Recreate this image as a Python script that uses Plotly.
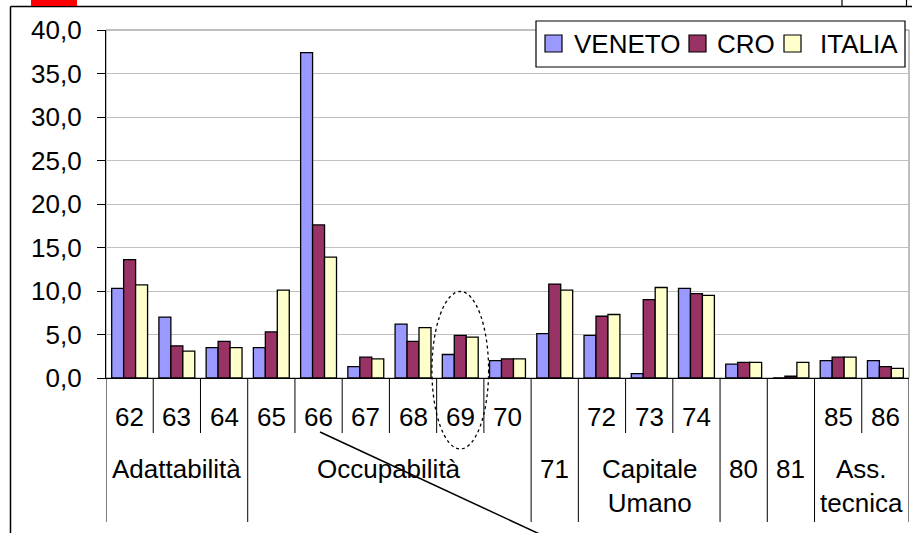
import plotly.graph_objects as go

# categories (measure codes) and the group row underneath
categories = ["62", "63", "64", "65", "66", "67", "68", "69", "70",
              "71", "72", "73", "74", "80", "81", "85", "86"]
sub_labels = ["62", "63", "64", "65", "66", "67", "68", "69", "70",
              "", "72", "73", "74", "", "", "85", "86"]
group_labels = ["Adattabilità", "Occupabilità", "71", "Capitale<br>Umano",
                "80", "81", "Ass.<br>tecnica"]
group_sizes = [3, 6, 1, 3, 1, 1, 2]

series_names = ["VENETO", "CRO", "ITALIA"]
veneto = [10.3, 7.0, 3.5, 3.5, 37.4, 1.3, 6.2, 2.7, 2.0,
          5.1, 4.9, 0.5, 10.3, 1.6, 0.0, 2.0, 2.0]
cro = [13.6, 3.7, 4.2, 5.3, 17.6, 2.4, 4.2, 4.9, 2.2,
       10.8, 7.1, 9.0, 9.7, 1.8, 0.2, 2.4, 1.3]
italia = [10.7, 3.1, 3.5, 10.1, 13.9, 2.2, 5.8, 4.7, 2.2,
          10.1, 7.3, 10.4, 9.5, 1.8, 1.8, 2.4, 1.1]
colors = ["#9999FF", "#993366", "#FFFFCC"]

FONT = "Liberation Sans, Arial, sans-serif"
FS = 26
W, H = 912, 533
L, R, T, B = 106, 3, 30, 155
PW, PH = W - L - R, H - T - B


def px(x):
    return (x - L) / PW


def py(y):
    return (H - B - y) / PH


fig = go.Figure()
for name, vals, col in zip(series_names, [veneto, cro, italia], colors):
    fig.add_trace(go.Bar(x=categories, y=vals, name=name, showlegend=False,
                         marker=dict(color=col, line=dict(color="black", width=1.3))))

shapes = []
ann = []

# plot area border (top / right)
shapes.append(dict(type="rect", xref="paper", yref="paper", x0=0, x1=1, y0=0, y1=1,
                   line=dict(color="#808080", width=1), layer="below"))

# category dividers below the axis
group_starts = set()
pos = 0
for g in group_sizes:
    group_starts.add(pos)
    pos += g
group_starts.add(pos)
for i in range(len(categories) + 1):
    long_line = i in group_starts
    shapes.append(dict(type="line", xref="x", yref="paper", x0=i - 0.5, x1=i - 0.5,
                       y0=0, y1=py(522 if long_line else 433),
                       line=dict(color="black", width=1)))

# sub labels
for i, s in enumerate(sub_labels):
    if s:
        ann.append(dict(x=i, y=py(417), xref="x", yref="paper", text=s, showarrow=False,
                        font=dict(size=FS, color="black", family=FONT), yanchor="middle"))

# group labels
pos = 0
for lab, g in zip(group_labels, group_sizes):
    c = pos + (g - 1) / 2
    yy = 485.5 if "<br>" in lab else 469
    ann.append(dict(x=c, y=py(yy), xref="x", yref="paper", text=lab, showarrow=False,
                    font=dict(size=FS, color="black", family=FONT), yanchor="middle"))
    pos += g

# legend (drawn by hand to match the boxed Excel legend)
shapes.append(dict(type="rect", xref="paper", yref="paper", x0=px(536), x1=px(905),
                   y0=py(67), y1=py(21), fillcolor="white",
                   line=dict(color="black", width=1.2)))
for name, col, sx, tx in zip(series_names, colors, [545, 689, 784], [572, 715, 818]):
    shapes.append(dict(type="rect", xref="paper", yref="paper", x0=px(sx), x1=px(sx + 17),
                       y0=py(52), y1=py(35), fillcolor=col,
                       line=dict(color="black", width=1.2)))
    ann.append(dict(x=px(tx), y=py(44), xref="paper", yref="paper", text=name,
                    showarrow=False, xanchor="left", yanchor="middle",
                    font=dict(size=FS, color="black", family=FONT)))

# dotted ellipse around 69 and pointer line
shapes.append(dict(type="circle", xref="x", yref="paper", x0=6.4, x1=7.6,
                   y0=py(449), y1=py(291.5), line=dict(color="black", width=1.3, dash="dot")))
shapes.append(dict(type="line", xref="paper", yref="paper", x0=px(320), y0=py(432),
                   x1=px(560), y1=py(543.5), line=dict(color="black", width=1.5)))

# surrounding frame of the document
shapes.append(dict(type="line", xref="paper", yref="paper", x0=px(10.5), x1=px(10.5),
                   y0=py(6.5), y1=py(540), line=dict(color="black", width=1.5)))
shapes.append(dict(type="line", xref="paper", yref="paper", x0=px(10.5), x1=px(920),
                   y0=py(6.5), y1=py(6.5), line=dict(color="black", width=1.5)))
shapes.append(dict(type="rect", xref="paper", yref="paper", x0=px(31), x1=px(77),
                   y0=py(6), y1=py(-5), fillcolor="#FF0000", line=dict(width=0)))
for xv in [842, 906.5]:
    shapes.append(dict(type="line", xref="paper", yref="paper", x0=px(xv), x1=px(xv),
                       y0=py(-5), y1=py(6.5), line=dict(color="black", width=1.2)))

fig.update_layout(
    width=W, height=H,
    margin=dict(l=L, r=R, t=T, b=B, autoexpand=False),
    paper_bgcolor="white", plot_bgcolor="white",
    font=dict(family=FONT, size=FS, color="black"),
    separators=",.",
    barmode="group", bargap=0.24, bargroupgap=0,
    showlegend=False,
    xaxis=dict(type="category", range=[-0.5, len(categories) - 0.5],
               showticklabels=False, ticks="", showgrid=False,
               showline=True, linecolor="black", linewidth=1.2, zeroline=False),
    yaxis=dict(range=[0, 40], dtick=5, tickformat=".1f", showgrid=True,
               gridcolor="#c0c0c0", gridwidth=1, zeroline=False,
               showline=True, linecolor="black", linewidth=1.2,
               ticks="outside", ticklen=8, tickcolor="black", ticklabelstandoff=10,
               tickfont=dict(size=FS, family=FONT, color="black")),
    shapes=shapes,
    annotations=ann,
)

fig.write_html("out.html", config={"displayModeBar": False},
               post_script="document.body.style.margin='0';")
